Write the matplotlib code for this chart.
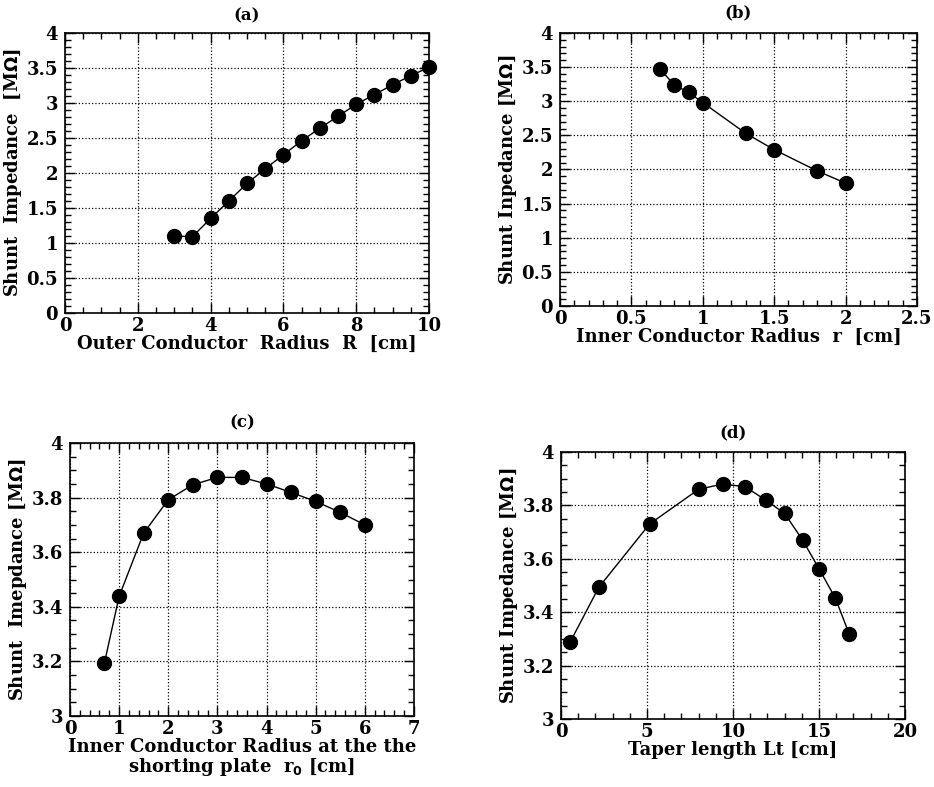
import matplotlib.pyplot as plt
import numpy as np
from matplotlib.ticker import MultipleLocator, FuncFormatter

# (a) outer conductor radius
R_a = [3, 3.5, 4, 4.5, 5, 5.5, 6, 6.5, 7, 7.5, 8, 8.5, 9, 9.5, 10]
Z_a = [1.10, 1.09, 1.35, 1.60, 1.85, 2.06, 2.26, 2.46, 2.64, 2.81, 2.98, 3.12, 3.26, 3.39, 3.51]

# (b) inner conductor radius
r_b = [0.7, 0.8, 0.9, 1.0, 1.3, 1.5, 1.8, 2.0]
Z_b = [3.47, 3.24, 3.13, 2.98, 2.53, 2.29, 1.98, 1.80]

# (c) inner conductor radius at shorting plate
r0_c = [0.7, 1.0, 1.5, 2.0, 2.5, 3.0, 3.5, 4.0, 4.5, 5.0, 5.5, 6.0]
Z_c = [3.193, 3.438, 3.670, 3.792, 3.847, 3.874, 3.874, 3.850, 3.819, 3.786, 3.746, 3.700]

# (d) taper length
Lt_d = [0.55, 2.2, 5.15, 8.0, 9.4, 10.7, 11.9, 13.0, 14.05, 15.0, 15.95, 16.75]
Z_d = [3.29, 3.493, 3.73, 3.86, 3.88, 3.87, 3.82, 3.77, 3.67, 3.563, 3.453, 3.32]

plt.rcParams['font.family'] = 'DejaVu Serif'
plt.rcParams['font.weight'] = 'bold'
plt.rcParams['axes.labelweight'] = 'bold'

fig = plt.figure(figsize=(9.34, 7.87), dpi=100)

gfmt = FuncFormatter(lambda v, p: '%g' % round(v, 3))


def panel(rect, x, y, title, xlabel, ylabel, xlim, ylim, xmaj, xmin, ymaj, ymin, title_y):
  ax = fig.add_axes(rect)
  ax.plot(x, y, '-', color='black', lw=1.0, marker='o', ms=10,
          mfc='black', mec='black', zorder=3, clip_on=False)
  ax.set_xlim(xlim)
  ax.set_ylim(ylim)
  ax.xaxis.set_major_locator(MultipleLocator(xmaj))
  ax.xaxis.set_minor_locator(MultipleLocator(xmin))
  ax.yaxis.set_major_locator(MultipleLocator(ymaj))
  ax.yaxis.set_minor_locator(MultipleLocator(ymin))
  ax.xaxis.set_major_formatter(gfmt)
  ax.yaxis.set_major_formatter(gfmt)
  ax.tick_params(which='both', direction='in', top=True, right=True, color='black')
  ax.tick_params(which='major', length=7, width=1, labelsize=13)
  ax.tick_params(axis='x', which='major', pad=3)
  ax.tick_params(axis='y', which='major', pad=5)
  ax.tick_params(which='minor', length=4, width=1)
  for s in ax.spines.values():
    s.set_linewidth(1.2)
  ax.grid(True, which='major', linestyle=':', color='black', lw=0.9)
  ax.set_xlabel(xlabel, fontsize=13, fontweight='bold', labelpad=0, linespacing=1.0)
  ax.set_ylabel(ylabel, fontsize=13, fontweight='bold', labelpad=2)
  ax.set_title(title, fontsize=12, fontweight='bold', y=title_y)
  return ax


panel([0.0696, 0.6023, 0.3897, 0.3558], R_a, Z_a, '(a)',
      'Outer Conductor  Radius  R  [cm]', 'Shunt  Impedance  [M$\\Omega$]',
      (0, 10), (0, 4), 2, 0.5, 0.5, 0.1, 1.015)
panel([0.5996, 0.6112, 0.3822, 0.3469], r_b, Z_b, '(b)',
      'Inner Conductor Radius  r  [cm]', 'Shunt Inpedance [M$\\Omega$]',
      (0, 2.5), (0, 4), 0.5, 0.1, 0.5, 0.1, 1.025)
panel([0.0749, 0.0902, 0.3683, 0.3469], r0_c, Z_c, '(c)',
      'Inner Conductor Radius at the the\nshorting plate  r$_\\mathbf{0}$ [cm]',
      'Shunt  Imepdance [M$\\Omega$]',
      (0, 7), (3, 4), 1, 0.2, 0.2, 0.05, 1.025)
panel([0.6006, 0.0864, 0.3683, 0.3393], Lt_d, Z_d, '(d)',
      'Taper length Lt [cm]', 'Shunt Impedance [M$\\Omega$]',
      (0, 20), (3, 4), 5, 1, 0.2, 0.05, 1.025)

plt.savefig('out.png', dpi=100)
